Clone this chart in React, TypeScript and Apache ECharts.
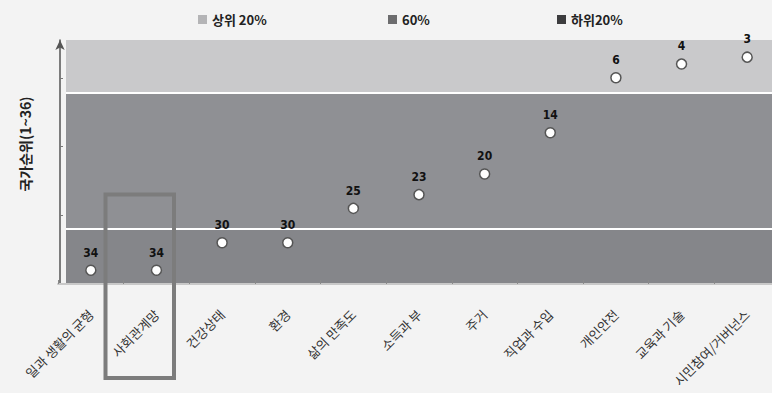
import React, { useEffect, useRef } from "react";
import * as echarts from "echarts";

const categories = ["일과 생활의 균형", "사회관계망", "건강상태", "환경", "삶의 만족도", "소득과 부", "주거", "직업과 수입", "개인안전", "교육과 기술", "시민참여/거버넌스"];
const ranks = [34, 34, 30, 30, 25, 23, 20, 14, 6, 4, 3];
const legendNames = ["상위 20%", "60%", "하위20%"];
const legendColors = ["#b4b4b6", "#6c6c6e", "#3c3c3e"];
const bandLimits = [0.5, 8.2, 28, 36];
const bandColors = ["#c9c9cb", "#8f9094", "#85868a"];
const yTicks = [6, 16, 26, 36];

const KR = "'Noto Sans CJK KR', 'Noto Sans', sans-serif";

export default function App() {
  const ref = useRef<HTMLDivElement>(null);
  useEffect(() => {
    if (!ref.current) return;
    const chart = echarts.init(ref.current, null, { renderer: "svg" });
    const legendLefts = [193, 383, 552];
    const option: any = {
      animation: false,
      backgroundColor: "#f3f3f3",
      legend: legendNames.map((n, i) => ({
        data: [n],
        left: legendLefts[i],
        top: 8,
        icon: "rect",
        itemWidth: 9,
        itemHeight: 9,
        itemGap: 0,
        selectedMode: false,
        textStyle: { fontFamily: KR, fontWeight: "bold", fontSize: 13, color: "#222" },
      })),
      grid: [
        { left: 58, width: 722, top: 40, bottom: 109, outerBoundsMode: "none", containLabel: false },
        { left: 66, right: 0, top: 40, bottom: 109, outerBoundsMode: "none", containLabel: false },
      ],
      xAxis: [
        {
          type: "category",
          gridIndex: 0,
          data: categories,
          boundaryGap: true,
          z: 5,
          axisLine: { show: true, lineStyle: { color: "#c8c8c8", width: 2 } },
          axisTick: { show: true, inside: true, length: 4, lineStyle: { color: "#8a8a8a" } },
          axisLabel: { rotate: 45, interval: 0, margin: 28, fontSize: 13, color: "#333", fontFamily: KR },
          splitLine: { show: false },
        },
        { type: "value", gridIndex: 1, min: 0, max: 1, show: false },
      ],
      yAxis: [
        {
          type: "value",
          gridIndex: 0,
          inverse: true,
          min: 0.5,
          max: 36,
          offset: -2,
          name: "국가순위(1~36)",
          nameLocation: "middle",
          nameRotate: 90,
          nameGap: 28,
          nameTextStyle: { fontFamily: KR, fontWeight: "bold", fontSize: 14, color: "#222", padding: [0, 0, 0, 36] },
          axisLine: { show: true, symbol: ["none", "arrow"], symbolSize: [7, 10], lineStyle: { color: "#555", width: 1.5 } },
          axisTick: { show: true, inside: true, length: 3, customValues: yTicks, lineStyle: { color: "#777" } },
          axisLabel: { show: false },
          splitLine: { show: false },
        },
        { type: "value", gridIndex: 1, inverse: true, min: 0.5, max: 36, show: false },
      ],
      series: [
        ...legendNames.map((n, i) => ({
          name: n,
          type: "line",
          xAxisIndex: 0,
          yAxisIndex: 0,
          data: [],
          itemStyle: { color: legendColors[i] },
          lineStyle: { color: legendColors[i] },
        })),
        {
          type: "line",
          xAxisIndex: 1,
          yAxisIndex: 1,
          z: 1,
          silent: true,
          data: [[0, 1]],
          showSymbol: false,
          symbol: "none",
          lineStyle: { opacity: 0 },
          markArea: {
            silent: true,
            data: bandColors.map((c, i) => [
              { yAxis: bandLimits[i], itemStyle: { color: c } },
              { yAxis: bandLimits[i + 1] },
            ]),
          },
          markLine: {
            silent: true,
            symbol: "none",
            label: { show: false },
            lineStyle: { color: "#ffffff", width: 2, type: "solid" },
            data: [{ yAxis: bandLimits[1] }, { yAxis: bandLimits[2] }],
          },
        },
        {
          type: "scatter",
          xAxisIndex: 0,
          yAxisIndex: 0,
          z: 10,
          data: ranks,
          symbol: "circle",
          symbolSize: 10,
          itemStyle: { color: "#ffffff", borderColor: "#555", borderWidth: 1.5, opacity: 1 },
          label: {
            show: true,
            position: "top",
            distance: 6,
            fontFamily: "'DejaVu Sans Condensed', 'Liberation Sans', Arial, sans-serif",
            fontWeight: "bold",
            fontSize: 12,
            color: "#111",
          },
        },
      ],
      graphic: [
        {
          type: "rect",
          z: 100,
          shape: { x: 105.5, y: 194.5, width: 68.5, height: 183.5 },
          style: { fill: "none", stroke: "#7c7c7c", lineWidth: 4 },
        },
      ],
    };
    chart.setOption(option);
    return () => chart.dispose();
  }, []);
  return (
    <div
      ref={ref}
      style={{ position: "fixed", left: 0, top: 0, width: 772, height: 393 }}
    />
  );
}
